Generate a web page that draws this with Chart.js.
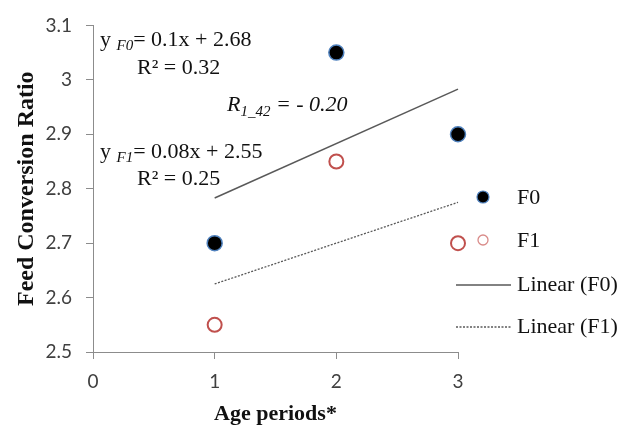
<!DOCTYPE html>
<html><head><meta charset="utf-8">
<script src="https://cdn.jsdelivr.net/npm/chart.js@4"></script>
<style>html,body{margin:0;padding:0;background:#fff}canvas{display:block}</style>
</head><body>
<canvas id="c" width="630" height="428"></canvas>
<script>
const agePeriods = [1, 2, 3];
const fcrF0 = [2.70, 3.05, 2.90];
const fcrF1 = [2.55, 2.85, 2.70];
const trendX = [1, 3];
const trendF0 = [2.783, 2.983];
const trendF1 = [2.625, 2.775];
const yTickLabels = ['2.5','2.6','2.7','2.8','2.9','3','3.1'];
const xTickLabels = ['0','1','2','3'];

const SERIF = '"Liberation Serif", "Times New Roman", serif';
const SANS = 'Lato, "Open Sans", sans-serif';

const pts = (xs, ys) => xs.map((x, i) => ({x, y: ys[i]}));

const overlay = {
  id: 'overlay',
  afterDraw(chart) {
    const ctx = chart.ctx;
    ctx.save();
    ctx.fillStyle = '#111';
    ctx.textBaseline = 'alphabetic';
    const R = '22px ' + SERIF, IS = 'italic 15px ' + SERIF, IR = 'italic 22px ' + SERIF;
    function runs(x, y, parts) {
      for (const p of parts) {
        ctx.font = p.f;
        ctx.fillText(p.t, x, y + (p.dy || 0));
        x += ctx.measureText(p.t).width;
      }
    }
    runs(100, 46, [{t: 'y ', f: R}, {t: 'F0', f: IS, dy: 4}, {t: '= 0.1x + 2.68', f: R}]);
    runs(137, 74, [{t: 'R² = 0.32', f: R}]);
    runs(100, 158, [{t: 'y ', f: R}, {t: 'F1', f: IS, dy: 4}, {t: '= 0.08x + 2.55', f: R}]);
    runs(137, 185, [{t: 'R² = 0.25', f: R}]);
    runs(227, 111, [{t: 'R', f: IR}, {t: '1_42', f: IS, dy: 5}, {t: ' = - 0.20', f: IR}]);

    // legend
    ctx.textBaseline = 'middle';
    ctx.font = R;
    ctx.beginPath(); ctx.arc(483, 197, 6, 0, Math.PI * 2);
    ctx.fillStyle = '#000'; ctx.fill();
    ctx.lineWidth = 1.2; ctx.strokeStyle = '#4F81BD'; ctx.stroke();
    ctx.fillStyle = '#111'; ctx.fillText('F0', 517, 198);
    ctx.beginPath(); ctx.arc(483, 240, 5, 0, Math.PI * 2);
    ctx.lineWidth = 1.3; ctx.strokeStyle = '#D98B89'; ctx.stroke();
    ctx.fillStyle = '#111'; ctx.fillText('F1', 517, 241);
    ctx.beginPath(); ctx.moveTo(456, 285); ctx.lineTo(511, 285);
    ctx.lineWidth = 1.5; ctx.strokeStyle = '#595959'; ctx.setLineDash([]); ctx.stroke();
    ctx.fillText('Linear (F0)', 517, 285);
    ctx.beginPath(); ctx.moveTo(456, 327); ctx.lineTo(511, 327);
    ctx.lineWidth = 1.3; ctx.strokeStyle = '#595959'; ctx.setLineDash([2, 1.5]); ctx.stroke();
    ctx.setLineDash([]);
    ctx.fillText('Linear (F1)', 517, 327);
    ctx.restore();
  }
};

new Chart(document.getElementById('c'), {
  type: 'scatter',
  data: {
    datasets: [
      {label: 'Linear (F0)', type: 'line', data: pts(trendX, trendF0), borderColor: '#595959', borderWidth: 1.5, pointRadius: 0, fill: false, order: 3, clip: false},
      {label: 'Linear (F1)', type: 'line', data: pts(trendX, trendF1), borderColor: '#595959', borderWidth: 1.3, borderDash: [2, 1.5], pointRadius: 0, fill: false, order: 4, clip: false},
      {label: 'F0', data: pts(agePeriods, fcrF0), pointRadius: 7.5, pointBackgroundColor: '#000', pointBorderColor: '#4F81BD', pointBorderWidth: 1.5, order: 1, clip: false},
      {label: 'F1', data: pts(agePeriods, fcrF1), pointRadius: 7, pointBackgroundColor: '#fff', pointBorderColor: '#C0504D', pointBorderWidth: 2, order: 2, clip: false}
    ]
  },
  options: {
    responsive: false,
    animation: false,
    layout: {padding: {left: 0, right: 172, top: 20, bottom: 0}},
    plugins: {legend: {display: false}, tooltip: {enabled: false}},
    scales: {
      x: {
        type: 'linear', min: 0, max: 3,
        afterBuildTicks(s) { s.ticks = xTickLabels.map(v => ({value: Number(v)})); },
        ticks: {font: {family: SANS, size: 19}, color: '#404040', padding: 11,
          callback: (v) => xTickLabels[xTickLabels.indexOf(String(v))] ?? v},
        grid: {drawOnChartArea: false, drawTicks: true, tickLength: 7, color: '#8c8c8c'},
        border: {display: true, color: '#8c8c8c', width: 1},
        title: {display: true, text: 'Age periods*', font: {family: SERIF, size: 22, weight: 'bold'}, color: '#111', padding: 0},
        afterFit(s) { s.height = 76; }
      },
      y: {
        min: 2.5, max: 3.1,
        afterBuildTicks(s) { s.ticks = yTickLabels.map(v => ({value: Number(v)})); },
        ticks: {font: {family: SANS, size: 19}, color: '#404040', padding: 14,
          callback: (v) => { const i = yTickLabels.findIndex(t => Math.abs(Number(t) - v) < 1e-9); return i >= 0 ? yTickLabels[i] : v; }},
        grid: {drawOnChartArea: false, drawTicks: true, tickLength: 7, color: '#8c8c8c'},
        border: {display: true, color: '#8c8c8c', width: 1},
        title: {display: true, text: 'Feed Conversion Ratio', font: {family: SERIF, size: 24, weight: 'bold'}, color: '#111', padding: {top: 12, bottom: 0}},
        afterFit(s) { s.width = 93; }
      }
    }
  },
  plugins: [overlay]
});
</script>
</body></html>
